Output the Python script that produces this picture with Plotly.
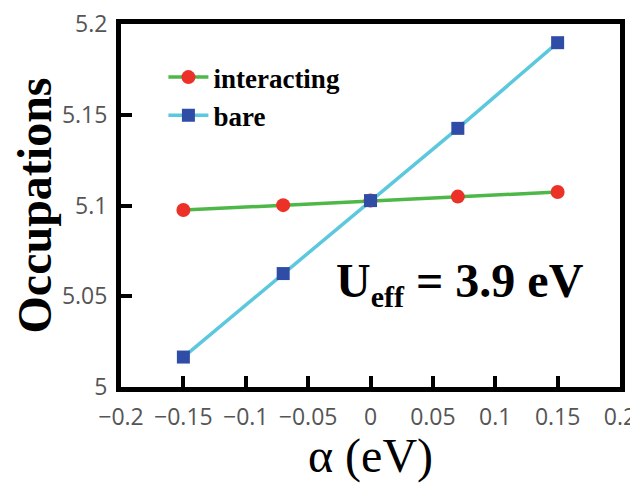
import plotly.graph_objects as go

alpha = [-0.15, -0.07, 0.0, 0.07, 0.15]
interacting = [5.0975, 5.1002, 5.1027, 5.1049, 5.1074]
bare = [5.0165, 5.0625, 5.1027, 5.1425, 5.1897]

x_ticks = [-0.2, -0.15, -0.1, -0.05, 0, 0.05, 0.1, 0.15, 0.2]
x_ticktext = ["\u22120.2", "\u22120.15", "\u22120.1", "\u22120.05", "0", "0.05", "0.1", "0.15", "0.2"]
y_ticks = [5, 5.05, 5.1, 5.15, 5.2]
y_ticktext = ["5", "5.05", "5.1", "5.15", "5.2"]

SERIF = "Liberation Serif, Times New Roman, serif"

fig = go.Figure()
fig.add_trace(go.Scatter(
    x=alpha, y=interacting, name="<b>interacting</b>", mode="lines+markers",
    line=dict(color="#4DB848", width=3.5),
    marker=dict(symbol="circle", size=14, color="#EC3228"),
))
fig.add_trace(go.Scatter(
    x=alpha, y=bare, name="<b>bare</b>", mode="lines+markers",
    line=dict(color="#5CC8DD", width=3.5),
    marker=dict(symbol="square", size=13, color="#2F4DA6"),
))

axis_common = dict(
    showline=True, linecolor="black", linewidth=5, mirror=True,
    ticks="inside", ticklen=11, tickwidth=4, tickcolor="black",
    showgrid=False, zeroline=False, automargin=False,
    ticklabeloverflow="allow",
    tickfont=dict(family="Open Sans, Noto Sans, sans-serif", size=23, color="#555555"),
)

# page body has an 8px margin, so the figure is 630x475 placed at (8, 8)
fig.update_layout(
    width=630, height=475,
    margin=dict(l=113, r=18, t=16, b=96),
    paper_bgcolor="white", plot_bgcolor="white",
    xaxis=dict(range=[-0.2, 0.2], tickvals=x_ticks, ticktext=x_ticktext,
               ticklabelstandoff=5,
               title=dict(text="\u03b1 (eV)", font=dict(family=SERIF, size=48, color="black"), standoff=4),
               **axis_common),
    yaxis=dict(range=[5.0, 5.2], tickvals=y_ticks, ticktext=y_ticktext,
               ticklabelstandoff=4,
               title=dict(text="<b>Occupations</b>", font=dict(family=SERIF, size=48, color="black"), standoff=12),
               **axis_common),
    legend=dict(x=0.085, y=0.92, xanchor="left", yanchor="top",
                bgcolor="rgba(0,0,0,0)", tracegroupgap=0, itemwidth=40,
                font=dict(family=SERIF, size=27, color="black")),
    showlegend=True,
    annotations=[dict(
        x=0.68, y=0.285, xref="paper", yref="paper", xanchor="center", yanchor="middle",
        showarrow=False,
        text="<b>U<sub><span style='font-size:30px'>eff</span></sub> = 3.9 eV</b>",
        font=dict(family=SERIF, size=48, color="black"),
    )],
)

fig.write_html("out.html")
